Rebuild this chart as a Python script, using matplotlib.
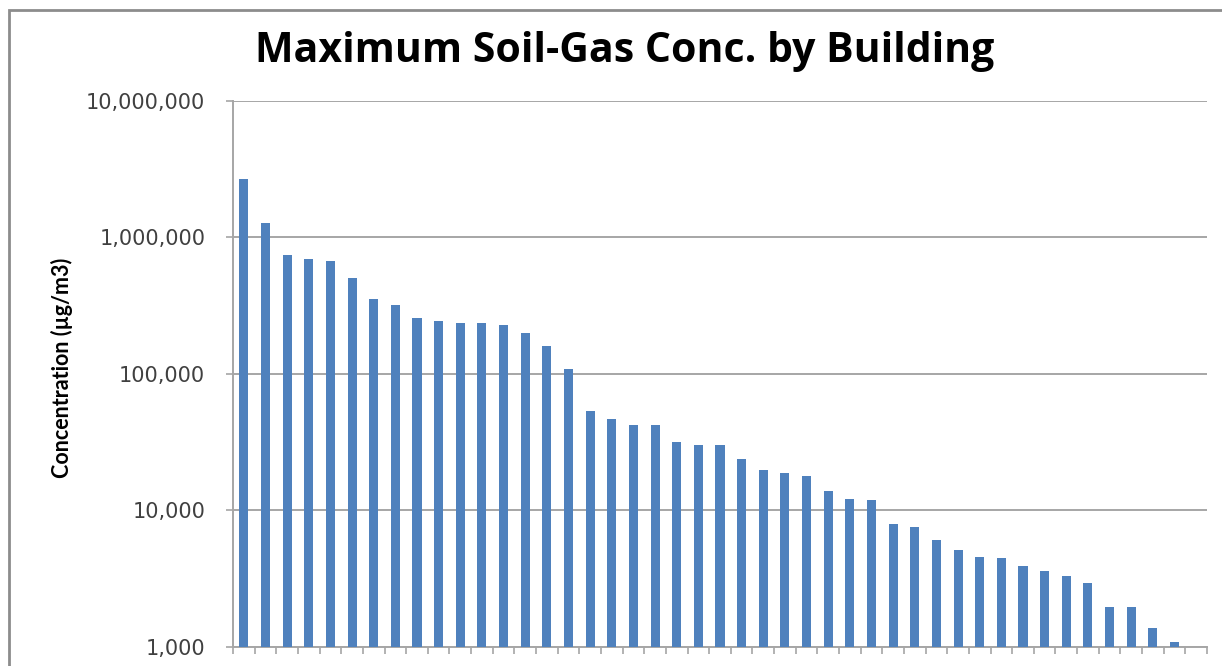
import numpy as np
import matplotlib
matplotlib.use("Agg")
import matplotlib.pyplot as plt
from matplotlib.ticker import FixedLocator, FuncFormatter
from matplotlib.patches import Rectangle

# max soil-gas concentration per building, ug/m3
conc = [2670000, 1280000, 743000, 695000, 671000, 507000, 351000, 318000,
        258000, 244000, 236000, 236000, 228000, 198000, 160000, 109000,
        53300, 46300, 42300, 42300, 31500, 30300, 30300, 23800,
        19700, 18700, 17700, 13900, 12050, 11800, 7940, 7500,
        6100, 5120, 4520, 4440, 3930, 3610, 3320, 2930,
        1970, 1970, 1360, 1080]
n_slots = 45  # one extra empty category at the right end
y_ticks = [1e3, 1e4, 1e5, 1e6, 1e7]

title = "Maximum Soil-Gas Conc. by Building"
ylabel = "Concentration (\u00b5g/m3)"

fig = plt.figure(figsize=(12.22, 6.66), dpi=100)
ax = fig.add_axes([0.1907, 0.029, 0.797, 0.8193])

x = np.arange(len(conc))
ax.bar(x, conc, width=0.42, color="#4F81BD", zorder=3)

ax.set_yscale("log")
ax.set_ylim(1e3, 1e7)
ax.set_xlim(-0.5, n_slots - 0.5)

ax.yaxis.set_major_locator(FixedLocator(y_ticks))
ax.yaxis.set_minor_locator(FixedLocator([]))
ax.yaxis.set_major_formatter(FuncFormatter(lambda v, p: f"{int(v):,}"))
ax.grid(axis="y", color="#a6a6a6", linewidth=1.4, zorder=0)

ax.set_xticks(np.arange(n_slots + 1) - 0.5)
ax.set_xticklabels([])

for s in ["top", "right"]:
    ax.spines[s].set_visible(False)
for s in ["left", "bottom"]:
    ax.spines[s].set_color("#a6a6a6")
    ax.spines[s].set_linewidth(1.4)

ax.tick_params(axis="y", direction="out", length=5, width=1.2, color="#a6a6a6",
               labelsize=15, labelcolor="#404040", pad=15)
ax.tick_params(axis="x", direction="out", length=5, width=1.2, color="#a6a6a6")
for lab in ax.get_yticklabels():
    lab.set_family("DejaVu Sans")

fig.text(0.051, 0.447, ylabel, rotation=90, ha="center", va="center",
         fontsize=15.5, fontweight="bold", family="Lato", color="black")
fig.text(0.511, 0.922, title, ha="center", va="center",
         fontsize=29.5, fontweight="bold", family="Open Sans", color="black")

# chart-area border (cut off on the right and bottom in the original)
fig.patches.append(Rectangle((9 / 1222, -0.1), 1.2, 1.1 - 10 / 666,
                             transform=fig.transFigure, fill=False,
                             edgecolor="#8c8c8c", linewidth=2))

fig.savefig("out.png", dpi=100)
